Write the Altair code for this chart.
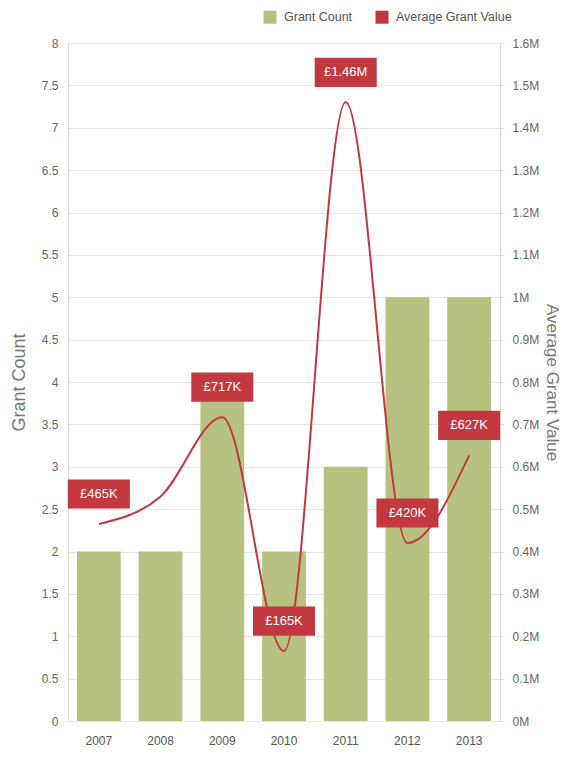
import altair as alt
import pandas as pd

years = ["2007", "2008", "2009", "2010", "2011", "2012", "2013"]
grant_count = [2, 2, 4, 2, 3, 5, 5]
avg_grant_value = [465000, 530000, 717000, 165000, 1460000, 420000, 627000]
value_labels = ["£465K", "", "£717K", "£165K", "£1.46M", "£420K", "£627K"]
series_names = ["Grant Count", "Average Grant Value"]

left_ticks = [i * 0.5 for i in range(17)]
right_ticks = [i * 100000 for i in range(17)]

BAR = "#b7c280"
RED = "#c3383f"
FONT = "Liberation Sans"

df = pd.DataFrame({"year": years, "count": grant_count,
                   "value": avg_grant_value, "label": value_labels,
                   "series": [series_names[0]] * len(years)})
lab = df[df["label"] != ""]

xenc = alt.X("year:N", title=None, sort=years,
             scale=alt.Scale(paddingInner=0.29, paddingOuter=0.145),
             axis=alt.Axis(labelAngle=0, ticks=False, domain=False,
                           labelPadding=14, labelFontSize=12, labelColor="#555",
                           labelFont=FONT))

bars = alt.Chart(df).mark_bar().encode(
    x=xenc,
    y=alt.Y("count:Q", scale=alt.Scale(domain=[0, 8], nice=False),
            axis=alt.Axis(title="Grant Count", values=left_ticks, ticks=False,
                          format="~g",
                          domain=False, grid=True, gridColor="#e6e6e6",
                          labelPadding=10, labelFontSize=12, labelColor="#666",
                          labelFont=FONT, titleFont=FONT, titleFontSize=18,
                          titleFontWeight="normal", titleColor="#777",
                          titlePadding=13)),
    color=alt.Color("series:N",
                    scale=alt.Scale(domain=series_names, range=[BAR, RED]),
                    legend=alt.Legend(title=None, orient="none", direction="horizontal",
                                      legendX=195, legendY=-33, symbolType="square",
                                      symbolSize=170, symbolStrokeWidth=0,
                                      symbolOpacity=1,
                                      labelFontSize=12.5, labelColor="#555",
                                      labelFont=FONT, columnPadding=22,
                                      labelOffset=7, padding=0)),
)

yright = alt.Y("value:Q", scale=alt.Scale(domain=[0, 1600000], nice=False),
               axis=alt.Axis(title="Average Grant Value", orient="right",
                             values=right_ticks, grid=False, domain=False,
                             ticks=True, tickSize=4, tickColor="#ddd",
                             labelExpr="format(datum.value / 1000000, '.1~f') + 'M'",
                             labelPadding=8, labelFontSize=12, labelColor="#666",
                             labelFont=FONT, titleFont=FONT, titleFontSize=17,
                             titleFontWeight="normal", titleColor="#777",
                             titlePadding=4))

line = alt.Chart(df).mark_line(color=RED, strokeWidth=2, interpolate="monotone").encode(
    x=alt.X("year:N", sort=years), y=yright)

boxes = alt.Chart(lab).mark_point(
    shape="M-1,-0.47L1,-0.47L1,0.47L-1,0.47Z", filled=True, opacity=1,
    color=RED, size=3844, yOffset=-30, strokeWidth=0).encode(
    x=alt.X("year:N", sort=years), y=yright)

texts = alt.Chart(lab).mark_text(color="white", fontSize=13, font=FONT,
                                 yOffset=-30, baseline="middle").encode(
    x=alt.X("year:N", sort=years), y=yright, text="label:N")

right = alt.layer(line, boxes, texts)

chart = alt.layer(bars, right).resolve_scale(y="independent").properties(
    width=432, height=678,
    autosize=alt.AutoSizeParams(type="none"),
    padding={"left": 60, "top": 35, "right": 62, "bottom": 29},
).configure_view(stroke="#dcdcdc")

chart.save("out.html", embed_options={"renderer": "svg", "actions": False})
